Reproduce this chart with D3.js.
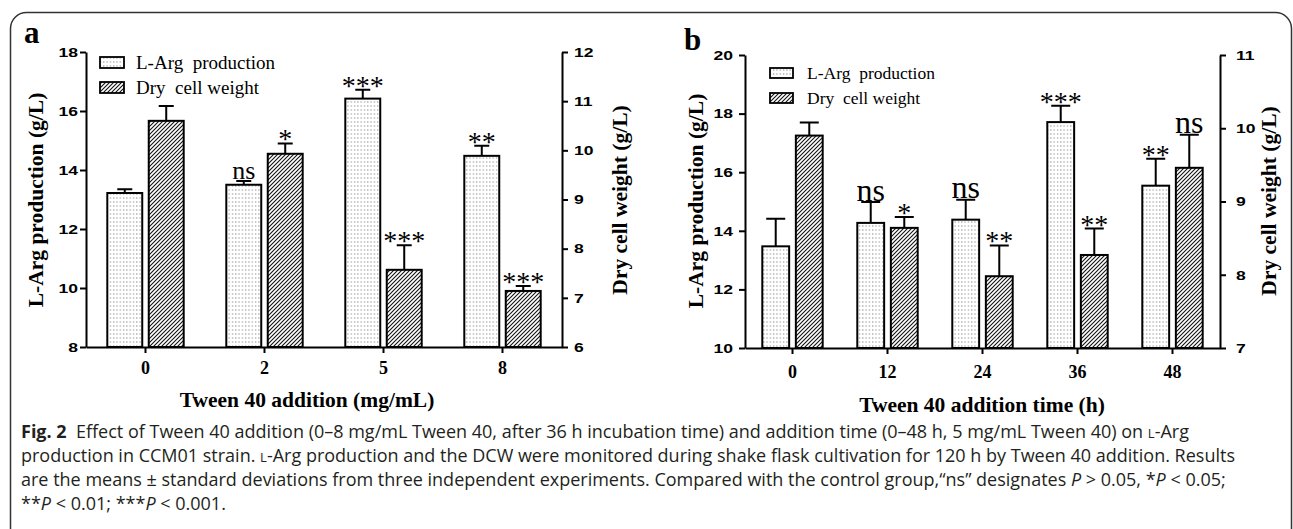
<!DOCTYPE html>
<html>
<head>
<meta charset="utf-8">
<script src="https://cdn.jsdelivr.net/npm/d3@7"></script>
<style>
  body { margin: 0; background: #fff; }
  text { white-space: pre; }
</style>
</head>
<body>
<script>
// panel a: Tween 40 dose (mg/mL)
const doseCats = ["0", "2", "5", "8"];
const doseArg = [13.22, 13.5, 16.42, 14.48];
const doseArgSd = [0.13, 0.13, 0.3, 0.34];
const doseDcw = [10.6, 9.93, 7.57, 7.14];
const doseDcwSd = [0.3, 0.21, 0.5, 0.1];
const doseArgSig = ["", "ns", "***", "**"];
const doseDcwSig = ["", "*", "***", "***"];
const doseLeftTicks = [8, 10, 12, 14, 16, 18];
const doseRightTicks = [6, 7, 8, 9, 10, 11, 12];

// panel b: addition time (h)
const timeCats = ["0", "12", "24", "36", "48"];
const timeArg = [13.47, 14.27, 14.38, 17.71, 15.54];
const timeArgSd = [0.94, 0.71, 0.68, 0.56, 0.92];
const timeDcw = [9.9, 8.64, 7.98, 8.27, 9.46];
const timeDcwSd = [0.18, 0.15, 0.42, 0.36, 0.45];
const timeArgSig = ["", "ns", "ns", "***", "**"];
const timeDcwSig = ["", "*", "**", "**", "ns"];
const timeLeftTicks = [10, 12, 14, 16, 18, 20];
const timeRightTicks = [7, 8, 9, 10, 11];

const legendLabels = ["L-Arg  production", "Dry  cell weight"];

const serif = "'Liberation Serif', 'Times New Roman', serif";
const sans = "'Liberation Sans', Arial, sans-serif";

let svg = d3.select('body')
  .append('svg')
  .attr('width', 1293)
  .attr('height', 529)

let defs = svg.append('defs')

let dots = defs.append('pattern')
  .attr('id', 'dots')
  .attr('patternUnits', 'userSpaceOnUse')
  .attr('width', 3.3).attr('height', 4)
dots.append('rect').attr('width', 3.3).attr('height', 4).attr('fill', '#fff')
dots.append('rect').attr('x', 1).attr('y', 1.5).attr('width', 1).attr('height', 1).attr('fill', '#666')

let hatch = defs.append('pattern')
  .attr('id', 'hatch')
  .attr('patternUnits', 'userSpaceOnUse')
  .attr('width', 4).attr('height', 4)
hatch.append('rect').attr('width', 4).attr('height', 4).attr('fill', '#fff')
hatch.append('path')
  .attr('d', 'M-1,1 l2,-2 M0,4 l4,-4 M3,5 l2,-2')
  .attr('stroke', '#111').attr('stroke-width', 1.1)

// outer frame
svg.append('rect')
  .attr('x', 10.5).attr('y', 12.5)
  .attr('width', 1281).attr('height', 700)
  .attr('rx', 16)
  .attr('fill', 'none')
  .attr('stroke', '#333')
  .attr('stroke-width', 1.5)

function drawPanel(p) {
  let g = svg.append('g')

  let x = d3.scaleBand().domain(p.cats).range(p.xRange).padding(0)
  let sub = d3.scaleBand().domain(['arg', 'dcw']).range([-p.half, p.half]).paddingInner(p.gap)
  let yL = d3.scaleLinear().domain(p.leftDomain).range(p.yRange)
  let yR = d3.scaleLinear().domain(p.rightDomain).range(p.yRange)

  let series = [
    { key: 'arg', vals: p.arg, sd: p.argSd, sig: p.argSig, y: yL, fill: 'url(#dots)' },
    { key: 'dcw', vals: p.dcw, sd: p.dcwSd, sig: p.dcwSig, y: yR, fill: 'url(#hatch)' }
  ]

  series.forEach(s => {
    let rows = p.cats.map((c, i) => ({ cat: c, v: s.vals[i], sd: s.sd[i], sig: s.sig[i] }))
    let cx = d => x(d.cat) + x.bandwidth() / 2 + sub(s.key) + sub.bandwidth() / 2

    // error bars
    g.selectAll('.err-' + s.key)
      .data(rows)
      .enter()
      .append('path')
      .attr('d', d => {
        let top = s.y(d.v + d.sd)
        return 'M' + cx(d) + ',' + s.y(d.v) + 'V' + top +
          'M' + (cx(d) - p.cap) + ',' + top + 'H' + (cx(d) + p.cap)
      })
      .attr('stroke', '#000')
      .attr('stroke-width', 2)
      .attr('fill', 'none')

    g.selectAll('.bar-' + s.key)
      .data(rows)
      .enter()
      .append('rect')
      .attr('x', d => x(d.cat) + x.bandwidth() / 2 + sub(s.key))
      .attr('width', sub.bandwidth())
      .attr('y', d => s.y(d.v))
      .attr('height', d => p.yRange[0] - s.y(d.v))
      .attr('fill', s.fill)
      .attr('stroke', '#000')
      .attr('stroke-width', 2)

    // significance marks
    g.selectAll('.sig-' + s.key)
      .data(rows.filter(d => d.sig != ""))
      .enter()
      .append('text')
      .attr('x', d => cx(d))
      .attr('y', d => s.y(d.v + d.sd) + (d.sig == 'ns' ? -1.5 : 5))
      .attr('text-anchor', 'middle')
      .style('font-family', serif)
      .style('font-size', d => (d.sig == 'ns' ? p.nsSize : 28) + 'px')
      .text(d => d.sig)
  })

  // axes
  let base = p.yRange[0]
  let left = p.xRange[0]
  let right = p.xRange[1]

  let lAxis = g.append('g')
    .attr('transform', 'translate(' + left + ',0)')
    .call(d3.axisLeft(yL).tickValues(p.leftTicks).tickFormat(d3.format('d')).tickSize(6).tickSizeOuter(0))
  lAxis.selectAll('text')
    .attr('transform', 'scale(1.3,1)')
    .attr('x', -(6 + p.lPad) / 1.3)

  let rAxis = g.append('g')
    .attr('transform', 'translate(' + right + ',0)')
    .call(d3.axisRight(yR).tickValues(p.rightTicks).tickFormat(d3.format('d')).tickSize(6).tickSizeOuter(0))
  rAxis.selectAll('text')
    .attr('transform', 'scale(1.3,1)')
    .attr('x', (6 + p.rPad) / 1.3)

  let xAxis = g.append('g')
    .attr('transform', 'translate(0,' + base + ')')
    .call(d3.axisBottom(x).tickSize(6).tickSizeOuter(0).tickPadding(p.xPad))

  ;[lAxis, rAxis].forEach(a => {
    a.selectAll('text')
      .style('font-family', sans)
      .style('font-weight', 'bold')
      .style('font-size', '13.5px')
      .attr('fill', '#000')
  })
  xAxis.selectAll('text')
    .style('font-family', serif)
    .style('font-weight', 'bold')
    .style('font-size', '18px')
    .attr('fill', '#000')
  ;[lAxis, rAxis, xAxis].forEach(a => {
    a.selectAll('path, line').attr('stroke', '#000').attr('stroke-width', 2)
  })

  // axis titles
  g.append('text')
    .attr('transform', 'translate(' + p.lTitleX + ',' + p.titleMid + ') rotate(-90)')
    .attr('text-anchor', 'middle')
    .style('font-family', serif).style('font-weight', 'bold').style('font-size', '21.5px')
    .text('L-Arg production (g/L)')

  g.append('text')
    .attr('transform', 'translate(' + p.rTitleX + ',' + p.titleMid + ') rotate(-90)')
    .attr('text-anchor', 'middle')
    .style('font-family', serif).style('font-weight', 'bold').style('font-size', '21.5px')
    .text('Dry cell weight (g/L)')

  g.append('text')
    .attr('x', p.xTitleX).attr('y', p.xTitleY)
    .attr('text-anchor', 'middle')
    .style('font-family', serif).style('font-weight', 'bold').style('font-size', '21.5px')
    .text(p.xTitle)

  // panel letter
  g.append('text')
    .attr('x', p.letterX).attr('y', p.letterY)
    .style('font-family', serif).style('font-weight', 'bold').style('font-size', '31px')
    .text(p.letter)

  // legend
  let fills = ['url(#dots)', 'url(#hatch)']
  legendLabels.forEach((lab, i) => {
    let ly = p.legY + i * p.legStep
    g.append('rect')
      .attr('x', p.legX).attr('y', ly)
      .attr('width', p.legW).attr('height', p.legH)
      .attr('fill', fills[i])
      .attr('stroke', '#000').attr('stroke-width', 1.8)
    g.append('text')
      .attr('x', p.legTextX).attr('y', ly + p.legH / 2 + p.legSize * 0.33)
      .style('font-family', serif).style('font-size', p.legSize + 'px')
      .text(lab)
  })
}

drawPanel({
  letter: 'a', letterX: 24, letterY: 43,
  cats: doseCats, arg: doseArg, argSd: doseArgSd, dcw: doseDcw, dcwSd: doseDcwSd,
  argSig: doseArgSig, dcwSig: doseDcwSig,
  leftTicks: doseLeftTicks, rightTicks: doseRightTicks,
  leftDomain: [8, 18], rightDomain: [6, 12],
  xRange: [86, 562], yRange: [347, 52],
  half: 38.2, gap: 0.157, cap: 7.5, nsSize: 26,
  lPad: 2, rPad: 6, xPad: 8,
  lTitleX: 43, rTitleX: 627, titleMid: 200,
  xTitle: 'Tween 40 addition (mg/mL)', xTitleX: 307, xTitleY: 407,
  legX: 100, legY: 57, legW: 24, legH: 11, legStep: 25, legTextX: 136, legSize: 19
})

drawPanel({
  letter: 'b', letterX: 684, letterY: 50,
  cats: timeCats, arg: timeArg, argSd: timeArgSd, dcw: timeDcw, dcwSd: timeDcwSd,
  argSig: timeArgSig, dcwSig: timeDcwSig,
  leftTicks: timeLeftTicks, rightTicks: timeRightTicks,
  leftDomain: [10, 20], rightDomain: [7, 11],
  xRange: [745, 1220], yRange: [348, 55],
  half: 30.2, gap: 0.2, cap: 9.5, nsSize: 32,
  lPad: 6, rPad: 10, xPad: 11,
  lTitleX: 703, rTitleX: 1276, titleMid: 201,
  xTitle: 'Tween 40 addition time (h)', xTitleX: 982, xTitleY: 412,
  legX: 770, legY: 68, legW: 23, legH: 10, legStep: 25, legTextX: 807, legSize: 17.5
})

// caption
const captionLines = [
  [{ t: 'Fig. 2', b: true }, { t: '  Effect of Tween 40 addition (0–8 mg/mL Tween 40, after 36 h incubation time) and addition time (0–48 h, 5 mg/mL Tween 40) on ' }, { t: 'l', sc: true }, { t: '-Arg' }],
  [{ t: 'production in CCM01 strain. ' }, { t: 'l', sc: true }, { t: '-Arg production and the DCW were monitored during shake flask cultivation for 120 h by Tween 40 addition. Results' }],
  [{ t: 'are the means ± standard deviations from three independent experiments. Compared with the control group,“ns” designates ' }, { t: 'P', i: true }, { t: ' > 0.05, *' }, { t: 'P', i: true }, { t: ' < 0.05;' }],
  [{ t: '**' }, { t: 'P', i: true }, { t: ' < 0.01; ***' }, { t: 'P', i: true }, { t: ' < 0.001.' }]
]

let cap = svg.append('g')
captionLines.forEach((line, i) => {
  let t = cap.append('text')
    .attr('x', 21)
    .attr('y', 438 + i * 24)
    .style('font-family', "'Open Sans', 'Noto Sans', sans-serif")
    .style('font-size', '18px')
    .attr('fill', '#231f20')
  line.forEach(seg => {
    let s = t.append('tspan').text(seg.t)
    if (seg.b) s.style('font-weight', 'bold')
    if (seg.i) s.style('font-style', 'italic')
    if (seg.sc) s.style('font-variant', 'small-caps')
  })
})
</script>
</body>
</html>
